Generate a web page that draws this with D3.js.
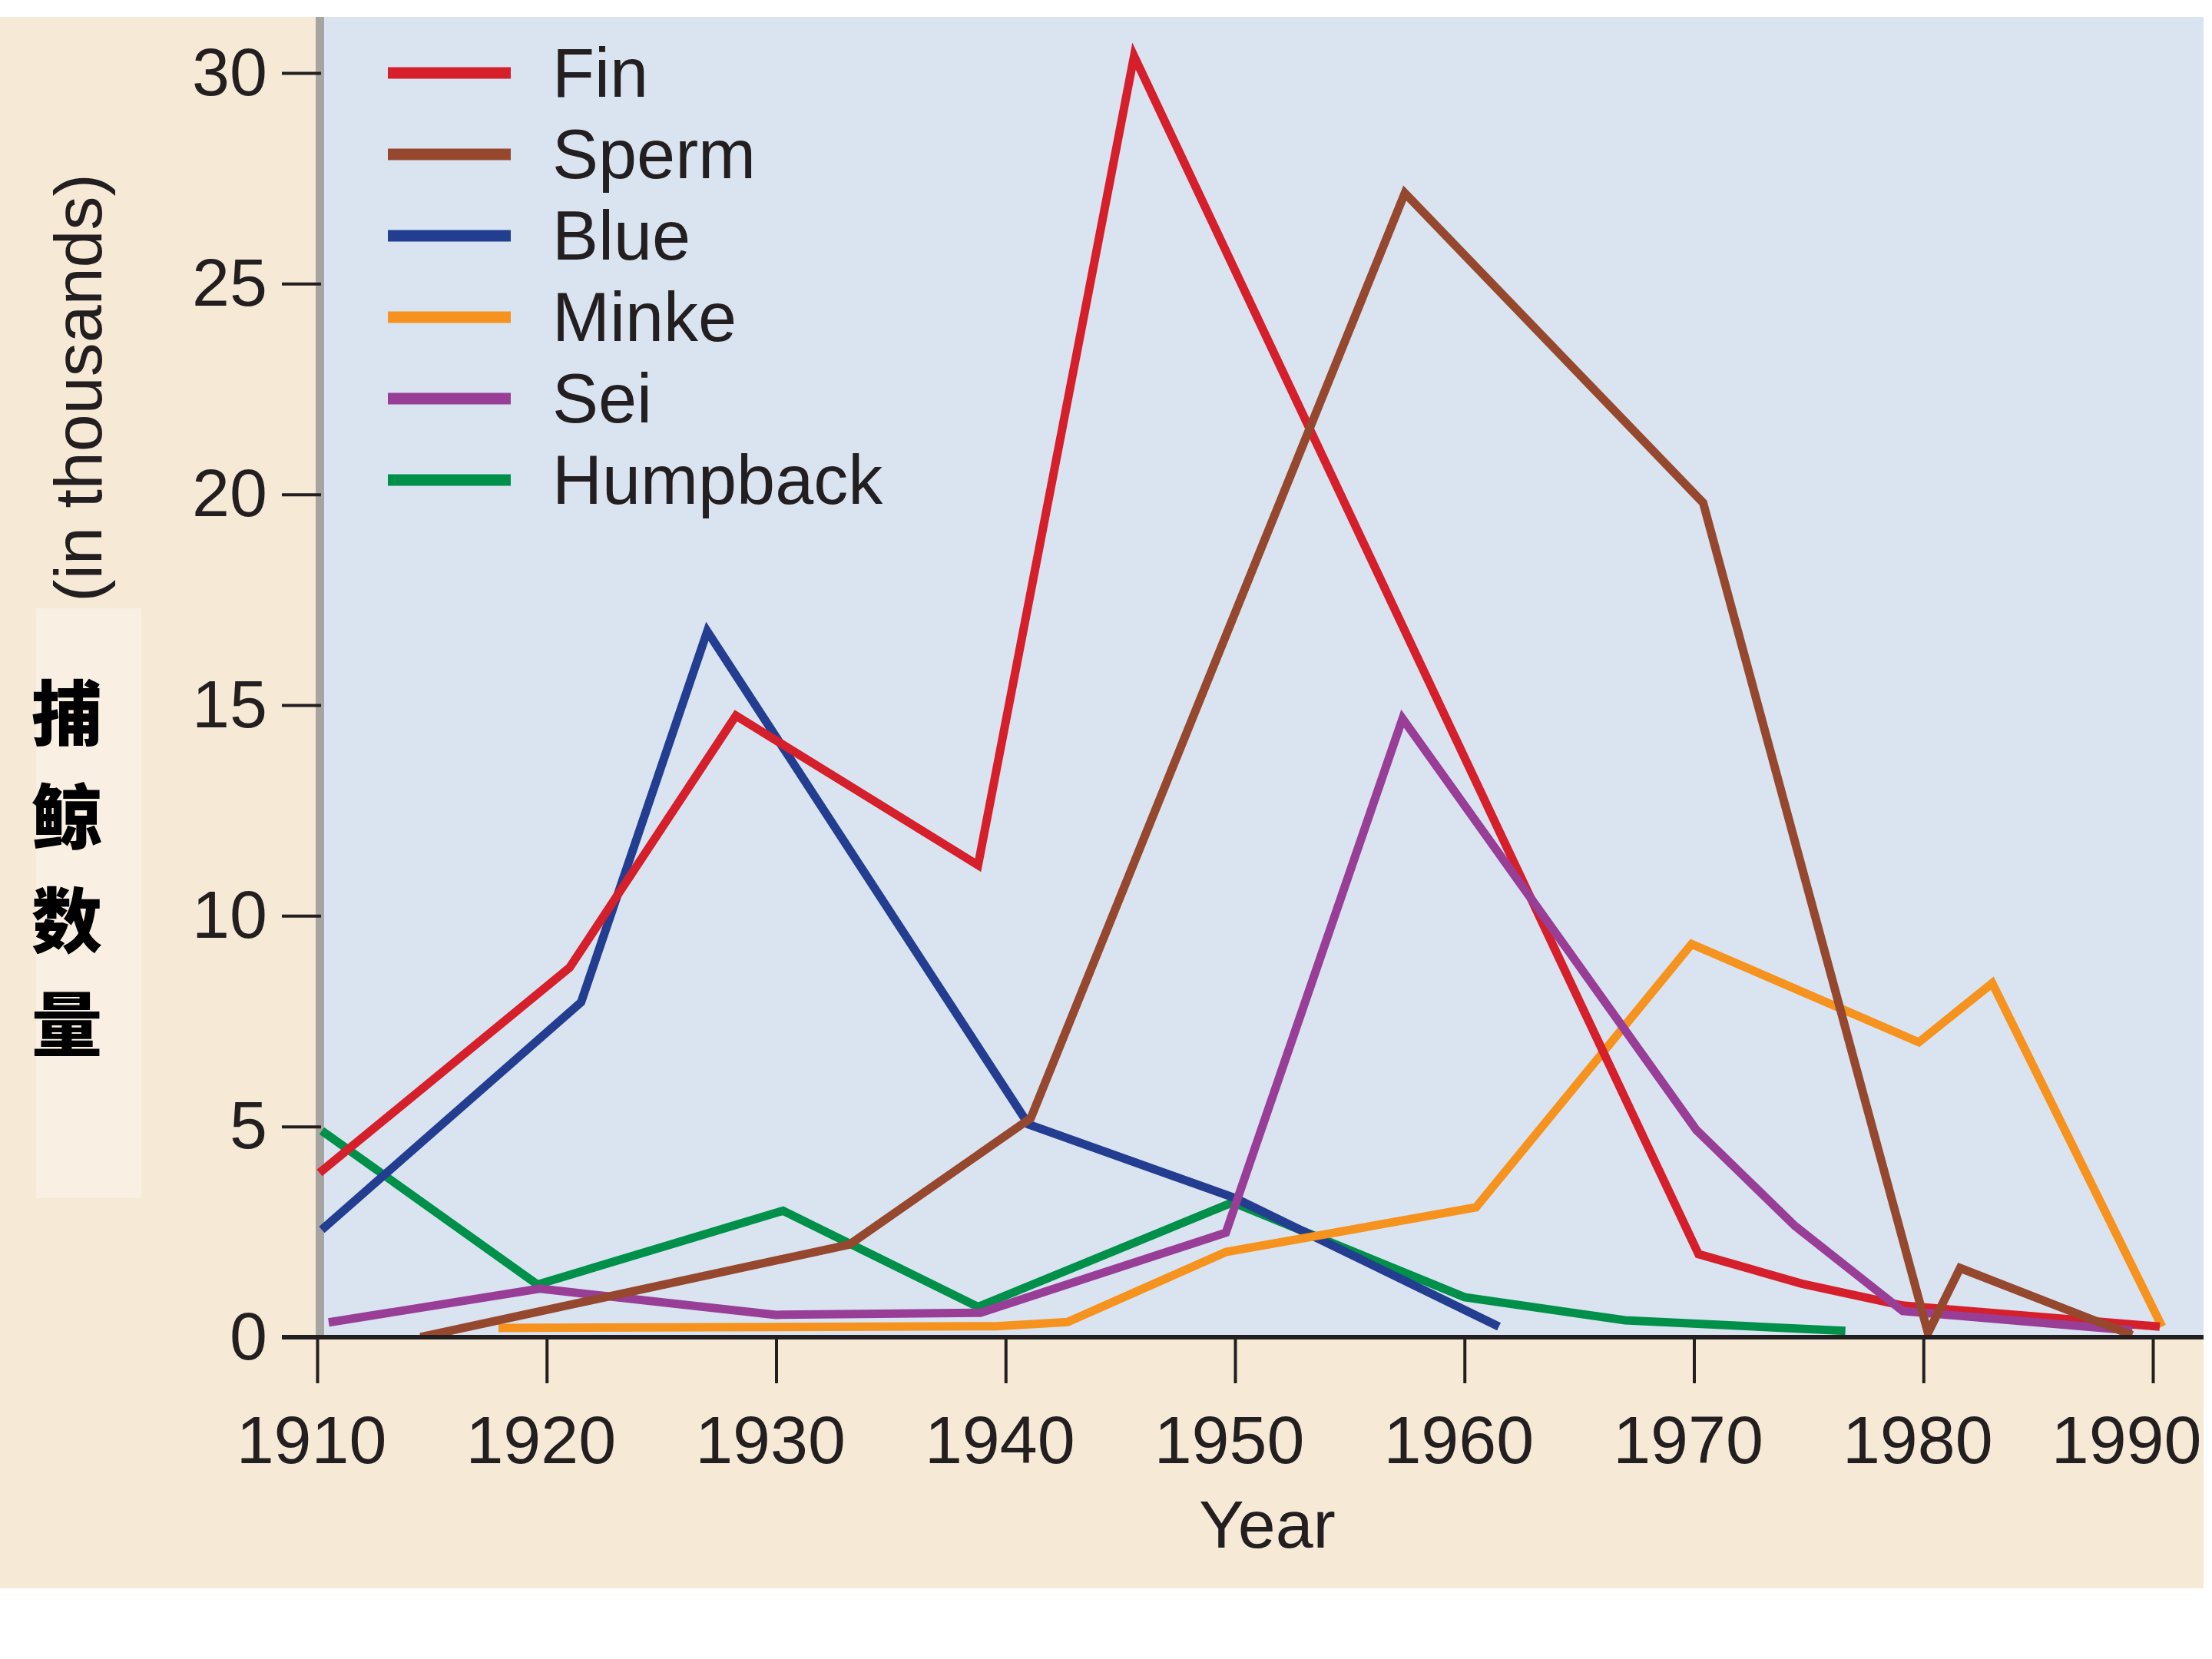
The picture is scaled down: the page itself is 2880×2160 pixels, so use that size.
<!DOCTYPE html>
<html><head><meta charset="utf-8">
<script src="https://cdn.jsdelivr.net/npm/d3@7"></script>
<style>body{margin:0;background:#fff;} svg{display:block;}</style>
</head><body>
<script>
// ---------- data ----------
const xTickValues = [1910, 1920, 1930, 1940, 1950, 1960, 1970, 1980, 1990];
const yTickValues = [0, 5, 10, 15, 20, 25, 30];
const speciesNames = ["Fin", "Sperm", "Blue", "Minke", "Sei", "Humpback"];

const finYears   = [1910.1, 1921.0, 1928.25, 1938.8, 1945.6, 1970.2, 1974.7, 1979.1, 1990.3];
const finValues  = [3.9, 8.77, 14.75, 11.2, 30.4, 1.97, 1.27, 0.75, 0.25];

const spermYears  = [1914.5, 1933.2, 1941.1, 1957.4, 1970.4, 1980.2, 1981.6, 1989.1];
const spermValues = [0.0, 2.2, 5.2, 27.15, 19.8, 0.1, 1.64, 0.05];

const blueYears  = [1910.2, 1921.5, 1927.0, 1941.0, 1950.0, 1961.5];
const blueValues = [2.55, 7.95, 16.75, 5.05, 3.3, 0.25];

const minkeYears  = [1917.9, 1939.6, 1942.7, 1949.6, 1960.5, 1969.9, 1979.8, 1983.0, 1990.4];
const minkeValues = [0.22, 0.26, 0.36, 2.02, 3.08, 9.33, 7.0, 8.4, 0.25];

const seiYears  = [1910.5, 1919.7, 1930.0, 1938.9, 1949.6, 1957.3, 1970.1, 1974.4, 1979.1, 1989.1];
const seiValues = [0.35, 1.15, 0.53, 0.58, 2.48, 14.68, 4.92, 2.64, 0.62, 0.16];

const humpbackYears  = [1910.2, 1919.6, 1930.3, 1938.8, 1949.9, 1960.0, 1967.0, 1976.6];
const humpbackValues = [4.9, 1.25, 3.0, 0.72, 3.2, 0.95, 0.4, 0.15];

const yAxisLabel = "(in thousands)";
const yAxisLabelCN = ["捕", "鲸", "数", "量"];
const xAxisLabel = "Year";

// ---------- styling ----------
const colors = {
  Fin: "#D51F2B", Sperm: "#96482F", Blue: "#233E90",
  Minke: "#F6921E", Sei: "#983E97", Humpback: "#00904A"
};
const seriesData = {
  Fin: [finYears, finValues], Sperm: [spermYears, spermValues], Blue: [blueYears, blueValues],
  Minke: [minkeYears, minkeValues], Sei: [seiYears, seiValues], Humpback: [humpbackYears, humpbackValues]
};
const drawOrder = ["Humpback", "Blue", "Minke", "Fin", "Sei", "Sperm"];

const W = 2880, H = 2160;
const font = "'Liberation Sans', Arial, Helvetica, sans-serif";
const ink = "#231F20";

const svg = d3.select("body").append("svg").attr("width", W).attr("height", H);

const x = d3.scaleLinear().domain([1910, 1990]).range([413, 2803]);
const y = d3.scaleLinear().domain([0, 30]).range([1741, 95]);

const plotL = 416, plotR = 2869, plotT = 22, plotB = 1741;

// backgrounds
svg.append("rect").attr("x", 0).attr("y", plotT).attr("width", plotR).attr("height", 2068 - plotT).attr("fill", "#F6EAD6");
svg.append("rect").attr("x", plotL).attr("y", plotT).attr("width", plotR - plotL).attr("height", plotB - plotT).attr("fill", "#D9E4F0");
svg.append("rect").attr("x", 411).attr("y", plotT).attr("width", 11).attr("height", plotB - plotT).attr("fill", "#A6A5A1");
svg.append("rect").attr("x", 47).attr("y", 792).attr("width", 137).attr("height", 768).attr("fill", "#F9EFE3");

// clip
svg.append("clipPath").attr("id", "plotclip").append("rect")
  .attr("x", plotL - 6).attr("y", plotT).attr("width", plotR - plotL + 6).attr("height", plotB - plotT);

// series
const line = d3.line().x(d => x(d[0])).y(d => y(d[1]));
const gLines = svg.append("g").attr("clip-path", "url(#plotclip)");
drawOrder.forEach(name => {
  const [ys, vs] = seriesData[name];
  const pts = ys.map((yr, i) => [yr, vs[i]]);
  gLines.append("path").datum(pts).attr("d", line)
    .attr("fill", "none").attr("stroke", colors[name]).attr("stroke-width", 11)
    .attr("stroke-linejoin", "miter").attr("stroke-miterlimit", 10);
});

// x axis
const gx = svg.append("g").attr("transform", `translate(0,${plotB})`)
  .call(d3.axisBottom(x).tickValues(xTickValues).tickFormat(d3.format("d")).tickSize(60));
gx.select(".domain").remove();
gx.selectAll(".tick line").attr("stroke", ink).attr("stroke-width", 4);
gx.selectAll(".tick text").attr("y", 164).attr("dy", 0).attr("x", -8)
  .attr("font-family", font).attr("font-size", 88).attr("fill", ink);
// last label kept inside the right edge
gx.selectAll(".tick text").filter(d => d === xTickValues[xTickValues.length - 1])
  .attr("text-anchor", "end").attr("x", plotR - 3 - x(xTickValues[xTickValues.length - 1]));

// y axis
const gy = svg.append("g").attr("transform", `translate(418,0)`)
  .call(d3.axisLeft(y).tickValues(yTickValues).tickSize(51).tickPadding(19));
gy.select(".domain").remove();
gy.selectAll(".tick line").attr("stroke", ink).attr("stroke-width", 4);
gy.selectAll(".tick text").attr("font-family", font).attr("font-size", 88).attr("fill", ink);

// x axis baseline
svg.append("line").attr("x1", 367).attr("x2", plotR).attr("y1", plotB).attr("y2", plotB)
  .attr("stroke", ink).attr("stroke-width", 6);

// axis titles
svg.append("text").attr("x", 1650).attr("y", 2015).attr("text-anchor", "middle")
  .attr("font-family", font).attr("font-size", 88).attr("fill", ink).text(xAxisLabel);

svg.append("text").attr("transform", "translate(101,505) rotate(-90)")
  .attr("text-anchor", "middle").attr("dominant-baseline", "central")
  .attr("font-family", font).attr("font-size", 88).attr("fill", ink).text(yAxisLabel);

const cnY = d3.scaleLinear().domain([0, 3]).range([922, 1327]);
svg.append("g").selectAll("text").data(yAxisLabelCN).join("text")
  .attr("x", 87).attr("y", (d, i) => cnY(i))
  .attr("text-anchor", "middle").attr("dominant-baseline", "central")
  .attr("font-family", "'Noto Sans CJK SC', sans-serif").attr("font-weight", 900)
  .attr("font-size", 92).attr("fill", "#000").text(d => d);

// legend
const legY = d3.scaleLinear().domain([0, 5]).range([95, 625]);
const leg = svg.append("g");
speciesNames.forEach((name, i) => {
  leg.append("line").attr("x1", 505).attr("x2", 665).attr("y1", legY(i)).attr("y2", legY(i))
    .attr("stroke", colors[name]).attr("stroke-width", 15);
  leg.append("text").attr("x", 719).attr("y", legY(i) + 31)
    .attr("font-family", font).attr("font-size", 90).attr("fill", ink).text(name);
});
</script>
</body></html>
